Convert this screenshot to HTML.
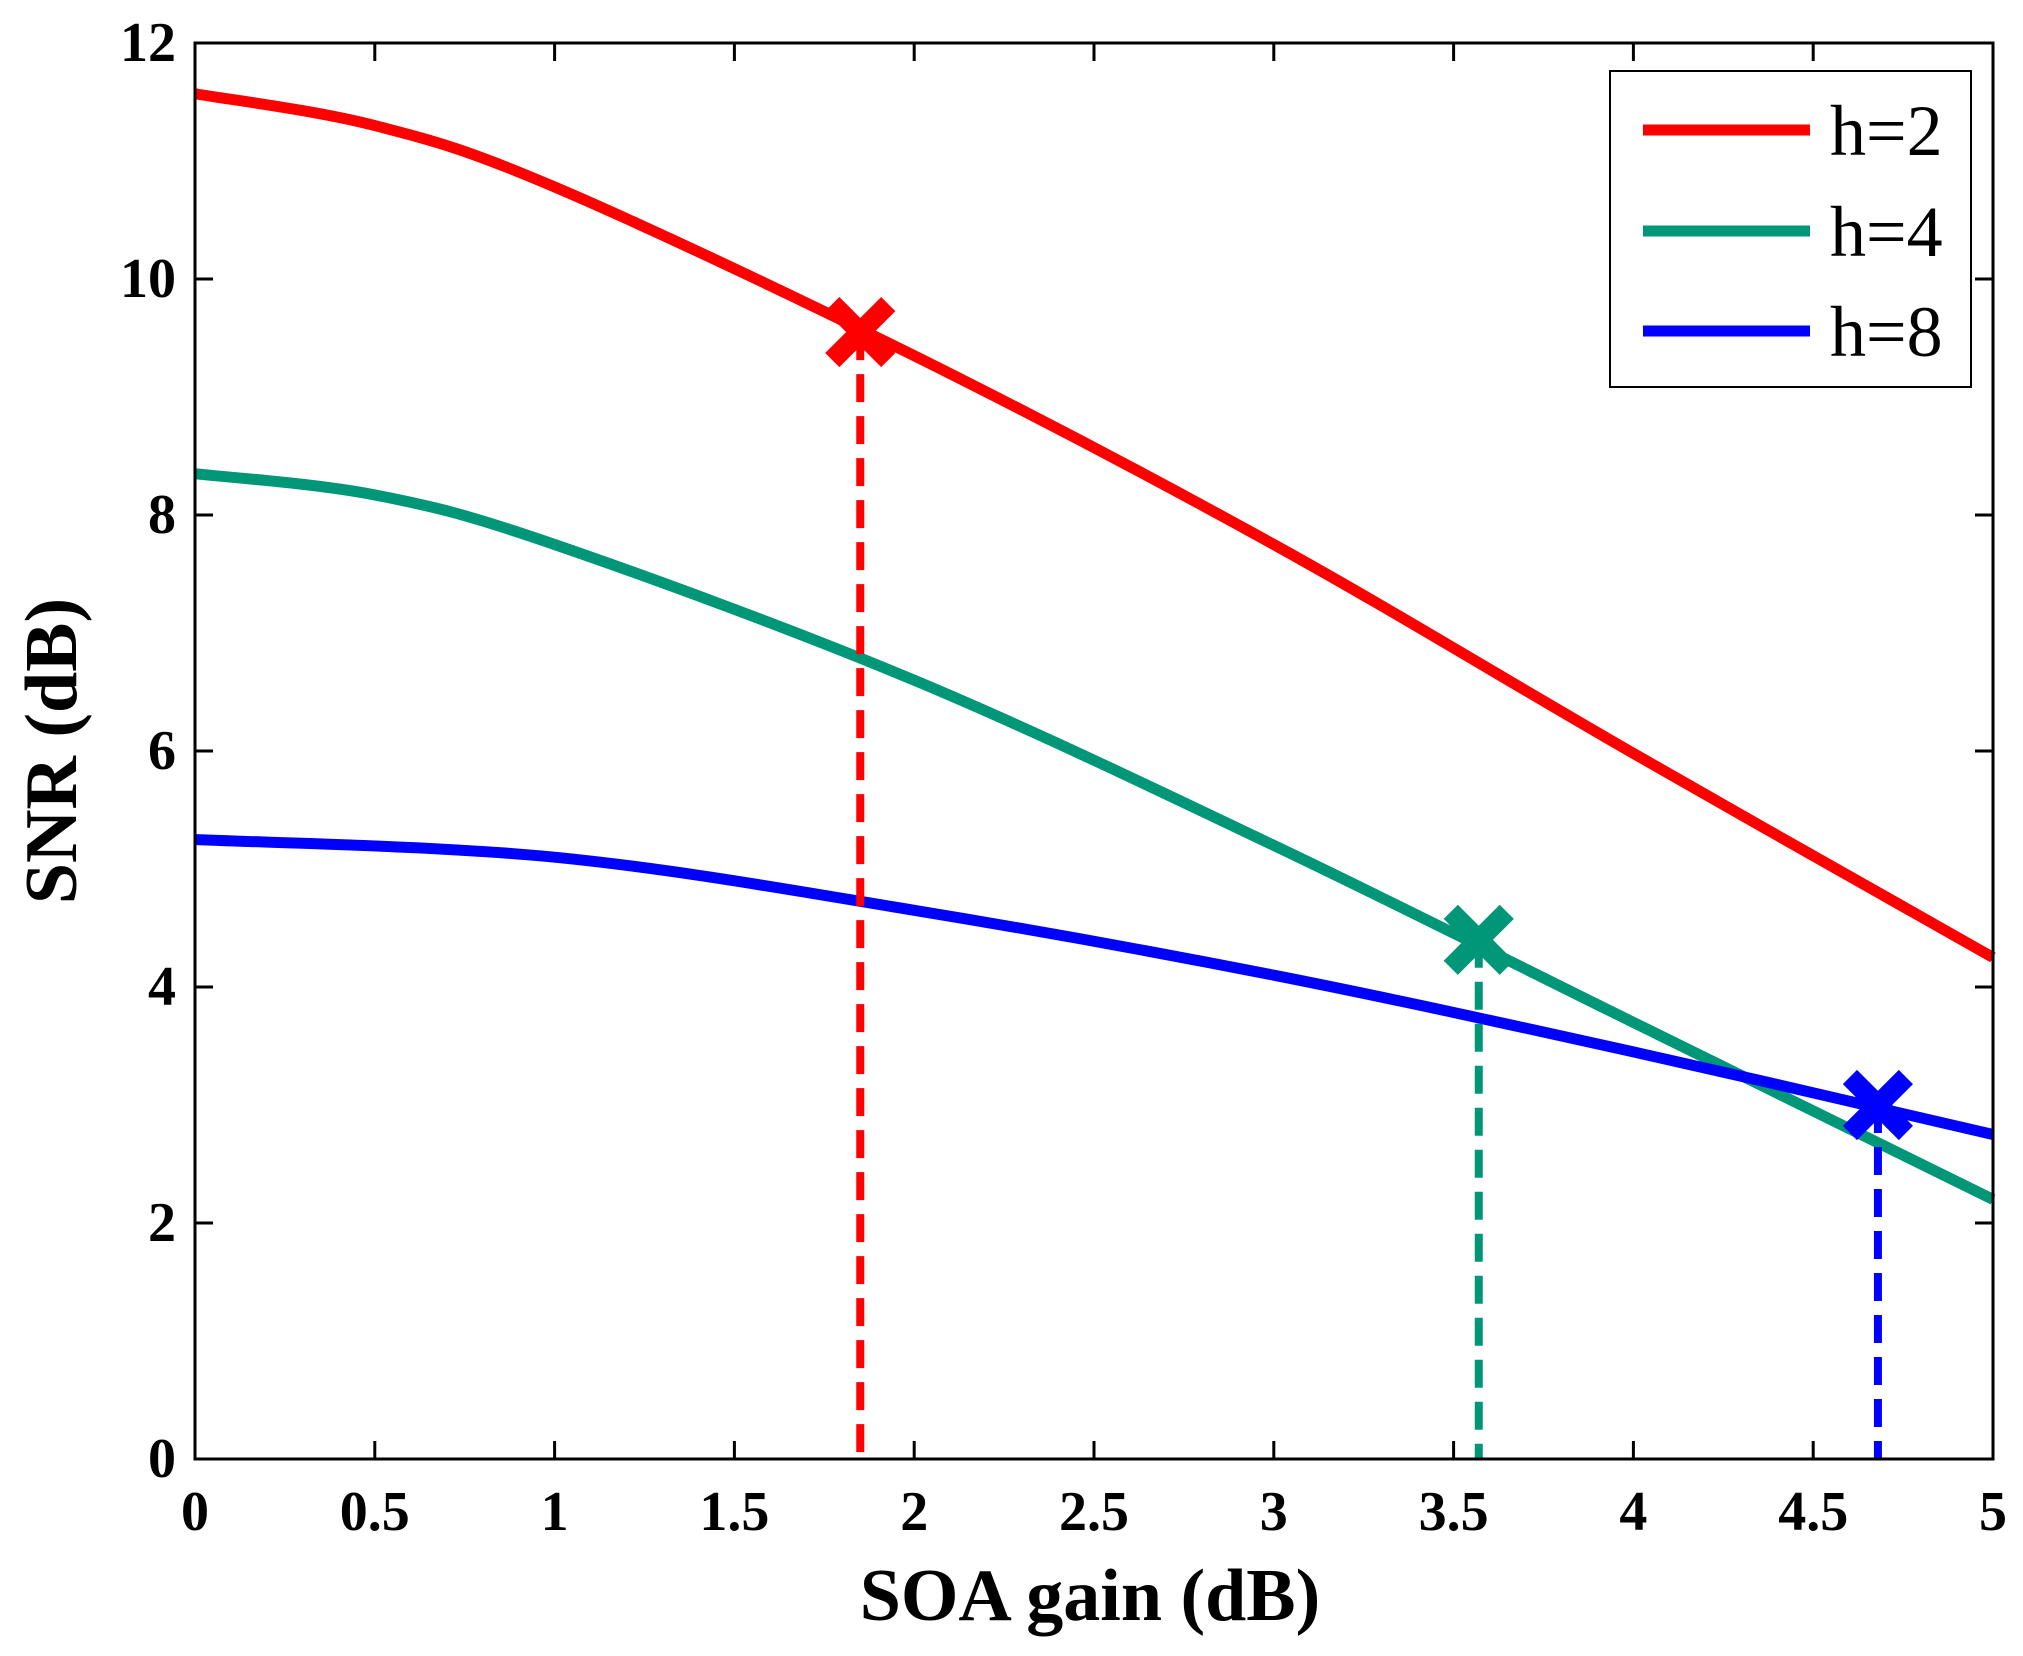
<!DOCTYPE html>
<html><head><meta charset="utf-8"><style>
html,body{margin:0;padding:0;background:#fff;}
svg{display:block;font-family:"Liberation Serif",serif;font-weight:bold;}
</style></head><body>
<svg id="s" width="2023" height="1656" xmlns="http://www.w3.org/2000/svg">
<rect width="2023" height="1656" fill="#fff"/>
<g id="g"></g>
<rect x="195" y="43" width="1798" height="1416" fill="none" stroke="#000" stroke-width="3"/>
<g id="t" font-size="56"></g>
<text x="1090" y="1620" font-size="74" text-anchor="middle">SOA gain (dB)</text>
<text transform="translate(76,751) rotate(-90)" font-size="74" text-anchor="middle">SNR (dB)</text>
<rect x="1610" y="71" width="361" height="316" fill="#fff" stroke="#000" stroke-width="2"/>
<line x1="1643" y1="130" x2="1810" y2="130" stroke="#ff0000" stroke-width="11"/>
<line x1="1643" y1="231" x2="1810" y2="231" stroke="#009678" stroke-width="11"/>
<line x1="1643" y1="331" x2="1810" y2="331" stroke="#0000ff" stroke-width="11"/>
<text x="1830" y="155" font-size="72" font-weight="normal">h=2</text>
<text x="1830" y="256" font-size="72" font-weight="normal">h=4</text>
<text x="1830" y="356" font-size="72" font-weight="normal">h=8</text>
</svg>
<script>
var X=function(x){return 195+x*359.6},Y=function(y){return 1459-y*118};
var g=document.getElementById('g'),t=document.getElementById('t'),ns='http://www.w3.org/2000/svg';
function el(p,tag,a,txt){var e=document.createElementNS(ns,tag);for(var k in a)e.setAttribute(k,a[k]);if(txt!=null)e.textContent=txt;p.appendChild(e);return e;}
var tk='';
for(var i=0;i<=10;i++){var x=X(i*0.5);tk+='M'+x+' 1459V1441M'+x+' 43V61';
el(t,'text',{x:x,y:1530,'text-anchor':'middle'},i==0?'0':String(i*0.5));}
for(var j=0;j<=6;j++){var y=Y(j*2);tk+='M195 '+y+'H213M1993 '+y+'H1975';
el(t,'text',{x:176,y:y+18,'text-anchor':'end'},String(j*2));}
el(g,'path',{d:tk,stroke:'#000','stroke-width':3,fill:'none'});
var S=[['#ff0000',[[0,11.57],[0.5,11.3],[1,10.78],[2,9.35],[3,7.75],[4,5.98],[5,4.25]]],
['#009678',[[0,8.35],[0.5,8.17],[1,7.75],[2,6.6],[3,5.2],[4,3.7],[5,2.2]]],
['#0000ff',[[0,5.25],[1,5.1],[2,4.65],[3,4.1],[4,3.45],[5,2.75]]]];
S.forEach(function(s){var p=s[1],d='M'+X(p[0][0])+' '+Y(p[0][1]);
for(var i=1;i<p.length;i++){var a=p[i-1],b=p[i],pa=p[i-2]||a,pb=p[i+1]||b;
var c1x=a[0]+(b[0]-pa[0])/6,c1y=a[1]+(b[1]-pa[1])/6,c2x=b[0]-(pb[0]-a[0])/6,c2y=b[1]-(pb[1]-a[1])/6;
d+='C'+X(c1x)+' '+Y(c1y)+' '+X(c2x)+' '+Y(c2y)+' '+X(b[0])+' '+Y(b[1]);}
el(g,'path',{d:d,stroke:s[0],'stroke-width':11,fill:'none'});});
[['#ff0000',1.85,9.55],['#009678',3.57,4.4],['#0000ff',4.68,3.0]].forEach(function(m){
var x=X(m[1]),y=Y(m[2]);
el(g,'line',{x1:x,y1:y,x2:x,y2:1459,stroke:m[0],'stroke-width':8,'stroke-dasharray':'28 14'});
el(g,'path',{d:'M'+(x-28)+' '+(y-28)+'L'+(x+28)+' '+(y+28)+'M'+(x-28)+' '+(y+28)+'L'+(x+28)+' '+(y-28),stroke:m[0],'stroke-width':20,fill:'none'});});
</script>
</body></html>
